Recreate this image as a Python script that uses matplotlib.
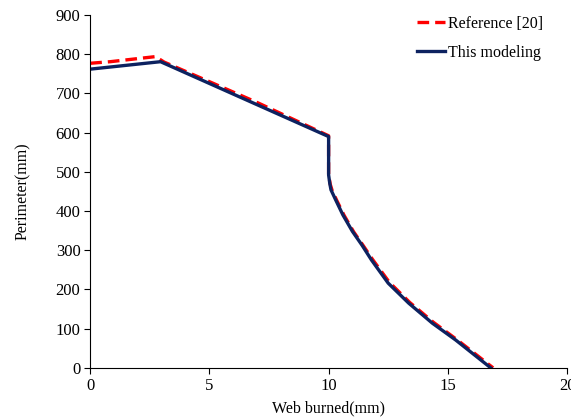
import matplotlib
matplotlib.use("Agg")
import matplotlib.pyplot as plt

ref_x = [0, 0.84, 2.74, 3.1, 5.0, 7.0, 10.0, 10.0, 10.07, 10.15, 10.35, 10.65, 11.05, 11.45, 11.85, 12.55, 13.4, 14.4, 15.38, 16.9]
ref_y = [777, 781, 794, 780, 730, 677, 592, 492, 468, 452, 426, 389, 347, 312, 276, 218, 167, 116, 72, 0]
mod_x = [0, 2.95, 10.0, 10.0, 10.05, 10.1, 10.3, 10.6, 11.0, 11.4, 11.8, 12.5, 13.36, 14.35, 15.33, 16.8]
mod_y = [762, 781, 590, 492, 470, 454, 428, 390, 348, 313, 275, 216, 165, 114, 71, 0]

plt.rcParams['font.family'] = ['Liberation Serif', 'DejaVu Serif']

fig = plt.figure(figsize=(5.71, 4.18), dpi=100)
ax = fig.add_axes([0.158, 0.120, 0.835, 0.844])

ax.plot(ref_x, ref_y, color='#ff0000', lw=2.4, dashes=(3.5, 1.8), label='Reference [20]')
ax.plot(mod_x, mod_y, color='#0d2260', lw=2.4, label='This modeling')

ax.set_xlim(0, 20)
ax.set_ylim(0, 900)
ax.set_xticks([0, 5, 10, 15, 20])
ax.set_yticks(range(0, 901, 100))
ax.spines['top'].set_visible(False)
ax.spines['right'].set_visible(False)
ax.tick_params(direction='out', length=4, labelsize=12, pad=3)
ax.set_xlabel('Web burned(mm)', fontsize=11.5, labelpad=5)
ax.set_ylabel('Perimeter(mm)', fontsize=11.5, labelpad=18)

leg = fig.legend(loc='upper left', frameon=False, fontsize=11.5, handlelength=1.75,
                 handletextpad=0.2, labelspacing=0.8, borderpad=0, borderaxespad=0,
                 bbox_to_anchor=(417 / 571, 1 - 16 / 418))

fig.savefig('out.png', dpi=100)
